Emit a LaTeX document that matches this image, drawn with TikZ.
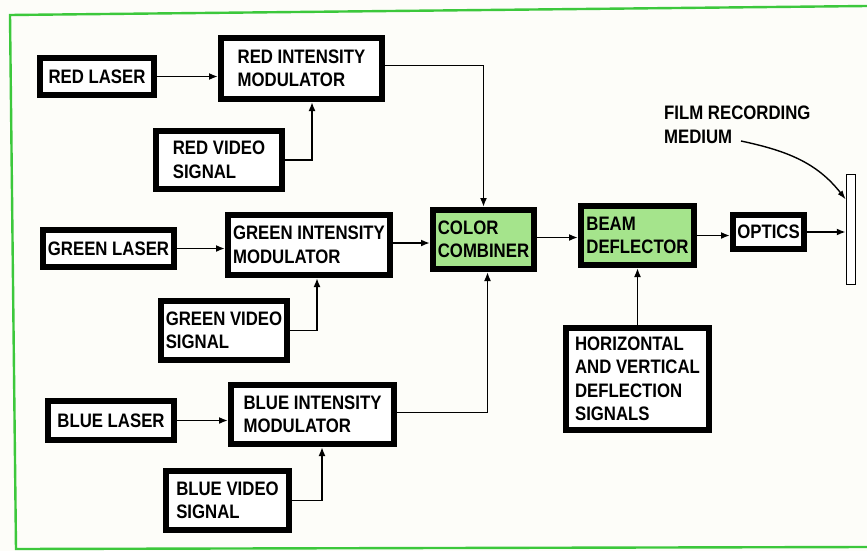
\documentclass[tikz,border=0pt]{standalone}
\usepackage{fontspec}
\setmainfont[FakeStretch=0.86]{Liberation Sans}
\usetikzlibrary{arrows.meta}
\definecolor{boxgreen}{RGB}{165,228,140}
\definecolor{framegreen}{RGB}{60,200,60}
\definecolor{paper}{RGB}{253,253,249}
\tikzset{
  blk/.style={draw=black, line width=6pt, fill=white, align=left, inner sep=0pt,
    font=\fontsize{19.5}{23.5}\selectfont\bfseries},
  gblk/.style={blk, fill=boxgreen},
  conn/.style={line width=1.8pt, -{Latex[length=9pt,width=7pt]}},
}
\begin{document}
\begin{tikzpicture}[x=1pt,y=-1pt]
\fill[paper] (0,0) rectangle (867,551);
\useasboundingbox (0,0) rectangle (867,551);
\draw[framegreen, line width=2.4pt] (867,6) -- (10,15) -- (16,549) -- (867,547);

\node[blk, minimum width=114, minimum height=37] (redlaser) at (97,76.5) {RED LASER};
\node[blk, minimum width=161, minimum height=61] (redmod) at (301.5,68.5) {RED INTENSITY\\MODULATOR};
\node[blk, minimum width=126, minimum height=58] (redvid) at (219,160) {RED VIDEO\\SIGNAL};

\node[blk, minimum width=131, minimum height=37] (greenlaser) at (108.5,248.5) {GREEN LASER};
\node[blk, minimum width=162, minimum height=60] (greenmod) at (309,245) {GREEN INTENSITY\\MODULATOR};
\node[blk, minimum width=126, minimum height=59] (greenvid) at (224,330.5) {GREEN VIDEO\\SIGNAL};

\node[blk, minimum width=126, minimum height=39] (bluelaser) at (111,420.5) {BLUE LASER};
\node[blk, minimum width=163, minimum height=59] (bluemod) at (312.5,414.5) {BLUE INTENSITY\\MODULATOR};
\node[blk, minimum width=123, minimum height=59] (bluevid) at (227.5,500.5) {BLUE VIDEO\\SIGNAL};

\node[gblk, minimum width=101, minimum height=59] (comb) at (483.5,239.5) {COLOR\\COMBINER};
\node[gblk, minimum width=113, minimum height=59] (beam) at (637.5,235.5) {BEAM\\DEFLECTOR};
\node[blk, minimum width=71, minimum height=34] (optics) at (768.5,232) {OPTICS};
\node[blk, minimum width=143, minimum height=102] (horiz) at (637.5,379) {HORIZONTAL\\AND VERTICAL\\DEFLECTION\\SIGNALS};

\node[draw=black, line width=1.5pt, fill=white, minimum width=9, minimum height=110, inner sep=0pt] (film) at (851,229.5) {};
\node[align=left, inner sep=0pt, anchor=north west, font=\fontsize{19.5}{23.5}\selectfont\bfseries] (filmlabel) at (664,106) {FILM RECORDING\\MEDIUM};
\coordinate (filmtail) at (741,141);

\draw[conn] (redlaser.east) -- (redlaser.east -| redmod.west);
\draw[conn] (greenlaser.east) -- (greenlaser.east -| greenmod.west);
\draw[conn] (bluelaser.east) -- (bluelaser.east -| bluemod.west);

\draw[conn] (redvid.east) -| ([xshift=10.5pt]redmod.south);
\draw[conn] (greenvid.east) -| ([xshift=8pt]greenmod.south);
\draw[conn] (bluevid.east) -| ([xshift=9.5pt]bluemod.south);

\draw[conn] ([yshift=3pt]redmod.east) -| (comb.north);
\draw[conn] ([yshift=2pt]greenmod.east) -- ([yshift=2pt]greenmod.east -| comb.west);
\draw[conn] ([yshift=2pt]bluemod.east) -| ([xshift=4pt]comb.south);

\draw[conn] ([yshift=2pt]comb.east) -- ([yshift=2pt]comb.east -| beam.west);
\draw[conn] (beam.east) -- (beam.east -| optics.west);
\draw[conn] (optics.east) -- (optics.east -| film.west);
\draw[conn] (horiz.north) -- (beam.south);

\draw[line width=1.4pt, -{Latex[length=9pt,width=6pt]}] (filmtail) to[out=-12, in=128] ([yshift=30pt]film.west);
\end{tikzpicture}
\end{document}
